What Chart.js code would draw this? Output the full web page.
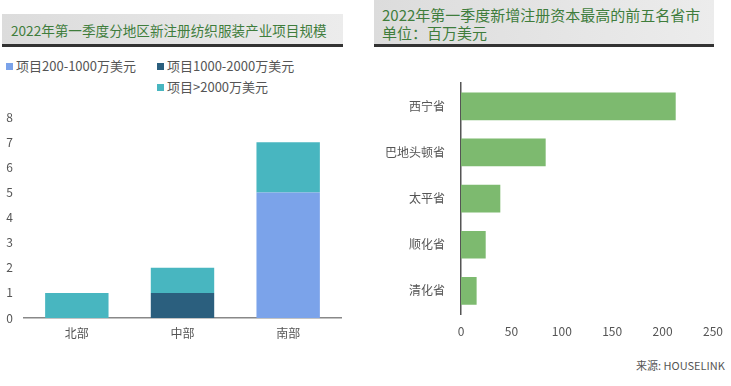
<!DOCTYPE html>
<html>
<head>
<meta charset="utf-8">
<script src="https://cdn.jsdelivr.net/npm/chart.js@4"></script>
<style>
  body { margin:0; width:731px; height:386px; background:#fff; position:relative; overflow:hidden;
         font-family:"Noto Sans CJK SC", "Noto Sans", sans-serif; }
  .head { position:absolute; background:linear-gradient(90deg,#dcdcdc,#ececec); border-bottom:3px solid #333;
          color:#3f7d3c; font-size:15px; line-height:18px; box-sizing:border-box; white-space:nowrap; }
  .lg { position:absolute; font-size:13px; color:#555; white-space:nowrap; }
  .lg i { display:inline-block; width:7px; height:7px; margin-right:3px; vertical-align:1px; }
  .src { position:absolute; left:636px; top:357px; font-size:11px; color:#555; }
</style>
</head>
<body>
<div class="head" style="left:2px;top:14px;width:341px;height:33px;padding:7px 0 0 9px;font-size:13.6px;">2022年第一季度分地区新注册纺织服装产业项目规模</div>
<div class="head" style="left:374px;top:0px;width:340px;height:47px;padding:6px 0 0 8px;">2022年第一季度新增注册资本最高的前五名省市<br>单位：百万美元</div>

<div class="lg" style="left:6px;top:56px;"><i style="background:#7ba3ea"></i>项目200-1000万美元</div>
<div class="lg" style="left:157px;top:56px;"><i style="background:#2b5f7e"></i>项目1000-2000万美元</div>
<div class="lg" style="left:157px;top:77px;"><i style="background:#48b6c0"></i>项目>2000万美元</div>

<div style="position:absolute;left:0;top:107px;width:350px;height:243px;"><canvas id="regionChart"></canvas></div>
<div style="position:absolute;left:370px;top:68px;width:361px;height:287px;"><canvas id="provChart"></canvas></div>
<div class="src">来源: HOUSELINK</div>

<script>
const regions = ['北部', '中部', '南部'];
const proj200to1000 = [0, 0, 5];
const proj1000to2000 = [0, 1, 0];
const projOver2000 = [1, 1, 2];
const regionTicks = [0, 1, 2, 3, 4, 5, 6, 7, 8];

const provinces = ['西宁省', '巴地头顿省', '太平省', '顺化省', '清化省'];
const capital = [213, 84, 39, 24.5, 15.5];

const tickFont = {family:'"Noto Sans CJK SC", "Noto Sans", sans-serif', size:12};

new Chart(document.getElementById('regionChart'), {
    type:'bar',
    data:{labels:regions, datasets:[
        {label:'项目200-1000万美元', data:proj200to1000, backgroundColor:'#7ba3ea'},
        {label:'项目1000-2000万美元', data:proj1000to2000, backgroundColor:'#2b5f7e'},
        {label:'项目>2000万美元', data:projOver2000, backgroundColor:'#48b6c0'}
    ]},
    options:{
        responsive:true, maintainAspectRatio:false, animation:false,
        barPercentage:0.6, categoryPercentage:1,
        layout:{padding:{top:8, right:9, left:0, bottom:0}},
        plugins:{legend:{display:false}, tooltip:{enabled:false}},
        scales:{
            x:{stacked:true, grid:{display:false}, border:{color:'#888', width:1.5},
               ticks:{color:'#555', font:tickFont, padding:0},
               afterFit:s=>{s.height=32;}},
            y:{stacked:true, min:0, max:8, grid:{display:false}, border:{display:false},
               afterBuildTicks:s=>{s.ticks=regionTicks.map(v=>({value:v}));},
               ticks:{color:'#555', font:tickFont, padding:3},
               afterFit:s=>{s.width=24;}}
        }
    }
});

new Chart(document.getElementById('provChart'), {
    type:'bar',
    data:{labels:provinces, datasets:[{label:'新增注册资本', data:capital, backgroundColor:'#7dba6f'}]},
    options:{
        indexAxis:'y',
        responsive:true, maintainAspectRatio:false, animation:false,
        barPercentage:0.6, categoryPercentage:1,
        layout:{padding:{top:3, right:18, left:0, bottom:0}},
        plugins:{legend:{display:false}, tooltip:{enabled:false}},
        scales:{
            x:{min:0, max:250, grid:{display:false}, border:{display:false},
               ticks:{stepSize:50, color:'#555', font:tickFont, padding:2},
               afterFit:s=>{s.height=41;}},
            y:{grid:{display:false}, border:{color:'#555', width:1.5},
               ticks:{color:'#555', font:tickFont, padding:8},
               afterFit:s=>{s.width=91;}}
        }
    }
});
</script>
</body>
</html>
